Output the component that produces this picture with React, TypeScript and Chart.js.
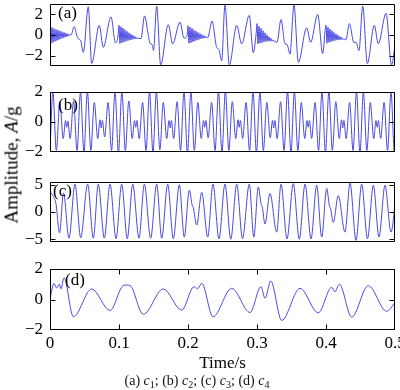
import React, { useEffect, useRef } from 'react';
import { Chart, registerables } from 'chart.js';

Chart.register(...registerables);

// ---------- data (time in seconds, amplitude in g) ----------
// (a) c1 : impulse-like components with ringing bursts every 0.1 s
const aTime = [
  0.0000, 0.0014, 0.0029, 0.0043, 0.0058, 0.0072, 0.0087, 0.0101, 0.0116, 0.0130, 0.0145,
  0.0159, 0.0174, 0.0188, 0.0203, 0.0217, 0.0232, 0.0246, 0.0261, 0.0275, 0.0290, 0.0304,
  0.0352, 0.0387, 0.0416, 0.0442, 0.0483, 0.0555, 0.0604, 0.0714, 0.0772, 0.0884, 0.0949, 0.0986,
  0.1000, 0.1014, 0.1029, 0.1043, 0.1058, 0.1072, 0.1087, 0.1101, 0.1116, 0.1130, 0.1145,
  0.1159, 0.1174, 0.1188, 0.1203, 0.1217, 0.1232, 0.1246, 0.1261, 0.1275, 0.1290,
  0.1319, 0.1370, 0.1420, 0.1449, 0.1478, 0.1500, 0.1546, 0.1604, 0.1714, 0.1778, 0.1884, 0.1942, 0.1986,
  0.2000, 0.2014, 0.2029, 0.2043, 0.2058, 0.2072, 0.2087, 0.2101, 0.2116, 0.2130, 0.2145,
  0.2159, 0.2174, 0.2188, 0.2203, 0.2217, 0.2232, 0.2246, 0.2261, 0.2275, 0.2290,
  0.2348, 0.2416, 0.2449, 0.2488, 0.2536, 0.2599, 0.2706, 0.2778, 0.2888, 0.2946, 0.2986,
  0.3000, 0.3014, 0.3029, 0.3043, 0.3058, 0.3072, 0.3087, 0.3101, 0.3116, 0.3130, 0.3145,
  0.3159, 0.3174, 0.3188, 0.3203, 0.3217, 0.3232, 0.3246, 0.3261, 0.3275, 0.3290,
  0.3348, 0.3406, 0.3435, 0.3478, 0.3536, 0.3599, 0.3720, 0.3778, 0.3880, 0.3952,
  0.4000, 0.4014, 0.4029, 0.4043, 0.4058, 0.4072, 0.4087, 0.4101, 0.4116, 0.4130, 0.4145,
  0.4159, 0.4174, 0.4188, 0.4203, 0.4217, 0.4232, 0.4246, 0.4261, 0.4275, 0.4290,
  0.4338, 0.4406, 0.4435, 0.4478, 0.4532, 0.4599, 0.4700, 0.4758, 0.4870, 0.4950, 0.5000,
];
const aAmp = [
  0.75, -0.8, 0.72, -0.72, 0.62, -0.62, 0.54, -0.54, 0.46, -0.46, 0.4,
  -0.38, 0.32, -0.3, 0.25, -0.22, 0.18, -0.15, 0.12, -0.08, 0.06, 0.0,
  0.83, 0.0, -0.4, -0.5, -1.68, 2.73, -2.76, 0.93, -1.2, 1.75, -0.75, -0.1,
  0.95, -0.82, 0.81, -0.76, 0.67, -0.69, 0.51, -0.61, 0.36, -0.55, 0.22,
  -0.49, 0.08, -0.44, -0.04, -0.4, -0.15, -0.38, -0.25, -0.37, -0.33,
  -0.35, 1.85, 0.2, -0.8, -0.9, -1.5, 2.8, -2.9, 1.0, -0.85, 1.25, -0.3, -0.1,
  0.9, -0.8, 0.78, -0.74, 0.64, -0.66, 0.5, -0.58, 0.38, -0.5, 0.26,
  -0.43, 0.14, -0.36, 0.04, -0.32, -0.06, -0.3, -0.14, -0.27, -0.22,
  1.35, -1.2, -1.4, -2.5, 2.9, -2.9, 0.93, -0.86, 1.9, -1.7, 0.0,
  1.1, -0.86, 0.86, -0.79, 0.64, -0.73, 0.42, -0.68, 0.22, -0.64, 0.02,
  -0.61, -0.16, -0.6, -0.32, -0.6, -0.47, -0.63, -0.59, -0.68, -0.7,
  1.5, -0.85, -0.9, -1.85, 2.9, -2.65, 0.7, -0.7, 2.0, -1.8,
  0.95, -0.8, 0.76, -0.72, 0.58, -0.65, 0.41, -0.59, 0.26, -0.54, 0.11,
  -0.5, -0.02, -0.47, -0.15, -0.45, -0.26, -0.45, -0.35, -0.46, -0.45,
  1.1, -0.75, -0.7, -1.5, 2.8, -2.76, 0.93, -0.85, 2.1, -2.9, -1.0,
];

// (b) c2 : beating oscillation
const bTime = [
  -0.0058, -0.0008, 0.0042, 0.0092, 0.0142, 0.0192, 0.0225, 0.0242, 0.0259,
  0.0292, 0.0342, 0.0392, 0.0442, 0.0492, 0.0542, 0.0592, 0.0642, 0.0692, 0.0725, 0.0742, 0.0759,
  0.0792, 0.0842, 0.0892, 0.0942, 0.0992, 0.1042, 0.1092, 0.1142, 0.1192, 0.1225, 0.1242, 0.1259,
  0.1292, 0.1342, 0.1392, 0.1442, 0.1492, 0.1542, 0.1592, 0.1642, 0.1692, 0.1725, 0.1742, 0.1759,
  0.1792, 0.1842, 0.1892, 0.1942, 0.1992, 0.2042, 0.2092, 0.2142, 0.2192, 0.2225, 0.2242, 0.2259,
  0.2292, 0.2342, 0.2392, 0.2442, 0.2492, 0.2542, 0.2592, 0.2642, 0.2692, 0.2725, 0.2742, 0.2759,
  0.2792, 0.2842, 0.2892, 0.2942, 0.2992, 0.3042, 0.3092, 0.3142, 0.3192, 0.3225, 0.3242, 0.3259,
  0.3292, 0.3342, 0.3392, 0.3442, 0.3492, 0.3542, 0.3592, 0.3642, 0.3692, 0.3725, 0.3742, 0.3759,
  0.3792, 0.3842, 0.3892, 0.3942, 0.3992, 0.4042, 0.4092, 0.4142, 0.4192, 0.4225, 0.4242, 0.4259,
  0.4292, 0.4342, 0.4392, 0.4442, 0.4492, 0.4542, 0.4592, 0.4642, 0.4692, 0.4725, 0.4742, 0.4759,
  0.4792, 0.4842, 0.4892, 0.4942, 0.4992, 0.5042,
];
const bAmp = [
  2.0, -2.0, 2.0, -1.9, 1.3, -1.1, 0.1, -0.35, 0.05,
  -1.1, 1.4, -1.9, 2.0, -2.05, 2.05, -1.9, 1.3, -1.1, 0.15, -0.4, 0.1,
  -1.0, 1.3, -1.9, 2.0, -2.05, 2.0, -1.9, 1.4, -1.1, 0.1, -0.35, 0.1,
  -1.1, 1.3, -1.9, 2.05, -2.05, 2.0, -1.85, 1.3, -1.1, 0.1, -0.4, 0.1,
  -1.1, 1.35, -1.9, 2.0, -2.05, 2.0, -1.9, 1.3, -1.1, 0.1, -0.35, 0.1,
  -1.05, 1.3, -1.9, 2.05, -2.05, 2.05, -1.9, 1.35, -1.1, 0.15, -0.35, 0.1,
  -1.1, 1.3, -1.9, 2.0, -2.05, 2.0, -1.9, 1.3, -1.05, 0.1, -0.4, 0.1,
  -1.1, 1.35, -1.9, 2.05, -2.05, 2.0, -1.9, 1.3, -1.1, 0.1, -0.35, 0.1,
  -1.1, 1.3, -1.9, 2.0, -2.05, 2.05, -1.9, 1.35, -1.1, 0.15, -0.4, 0.1,
  -1.1, 1.3, -1.9, 2.0, -2.05, 2.0, -1.9, 1.3, -1.1, 0.1, -0.35, 0.1,
  -1.1, 1.3, -1.9, 2.0, -2.05, 2.0,
];

// (c) c3
const cTime = [
  0.0000, 0.0043, 0.0087, 0.0138, 0.0196, 0.0275, 0.0362, 0.0445, 0.0546, 0.0628,
  0.0700, 0.0787, 0.0870, 0.0957, 0.1039, 0.1120, 0.1199, 0.1290, 0.1367, 0.1459,
  0.1546, 0.1619, 0.1706, 0.1787, 0.1874, 0.1946, 0.2019, 0.2060, 0.2075, 0.2126,
  0.2199, 0.2286, 0.2362, 0.2449, 0.2536, 0.2620, 0.2706, 0.2790, 0.2888, 0.2954,
  0.3019, 0.3060, 0.3075, 0.3116, 0.3188, 0.3286, 0.3348, 0.3435, 0.3526, 0.3613,
  0.3696, 0.3783, 0.3865, 0.3938, 0.4010, 0.4050, 0.4065, 0.4106, 0.4178, 0.4275,
  0.4348, 0.4435, 0.4517, 0.4601, 0.4686, 0.4768, 0.4855, 0.4942, 0.5014,
];
const cAmp = [
  3.7, 3.0, 1.5, -3.8, 3.5, -4.8, 5.1, -4.7, 5.1, -4.8,
  5.1, -4.8, 5.1, -4.9, 5.1, -4.9, 5.1, -4.8, 5.1, -4.8,
  5.1, -4.8, 5.1, -4.9, 5.0, -4.6, 4.0, 1.3, 0.9, -2.4,
  3.6, -4.6, 5.1, -4.9, 5.1, -5.0, 5.1, -4.9, 5.1, -4.6,
  4.6, 1.4, 1.0, -2.2, 3.4, -3.7, 5.1, -4.9, 5.2, -5.0,
  5.1, -4.9, 4.9, -4.6, 4.3, 1.1, 0.7, -1.9, 3.0, -3.7,
  5.3, -5.2, 5.1, -4.9, 4.9, -4.6, 4.9, -3.7, 3.0,
];

// (d) c4
const dTime = [
  0.0000, 0.0058, 0.0097, 0.0135, 0.0159, 0.0203, 0.0338, 0.0604, 0.0870, 0.1058,
  0.1112, 0.1159, 0.1352, 0.1642, 0.1909, 0.2087, 0.2138, 0.2199, 0.2362, 0.2633,
  0.2899, 0.3058, 0.3116, 0.3199, 0.3358, 0.3623, 0.3888, 0.4083, 0.4130, 0.4193,
  0.4372, 0.4613, 0.4880, 0.5000,
];
const dAmp = [
  0.05, 1.06, 0.75, 1.0, 0.7, 1.43, -1.13, 0.69, -0.72, 0.9,
  0.95, 0.92, -0.97, 0.69, -0.7, 0.84, 0.7, 1.06, -1.13, 0.73,
  -0.85, 0.84, 0.08, 1.21, -1.37, 0.73, -0.87, 0.8, 0.51, 1.0,
  -1.15, 0.9, -0.77, -0.2,
];

// ticks / labels
const aTicks = [-2, 0, 2];
const bTicks = [-2, 0, 2];
const cTicks = [-5, 0, 5];
const dTicks = [-2, 0, 2];
const timeTicks = [0, 0.1, 0.2, 0.3, 0.4, 0.5];
const timeTickLabels = ['0', '0.1', '0.2', '0.3', '0.4', '0.5'];
const panelLabels = ['(a)', '(b)', '(c)', '(d)'];
const captionParts = [
  ['(a)', '1'],
  ['(b)', '2'],
  ['(c)', '3'],
  ['(d)', '4'],
];

// ---------- styles / layout ----------
const FONT_FAMILY = '"Liberation Serif", "Times New Roman", Times, serif';
const LINE_COLOR = 'rgb(72, 72, 226)';
const PAD = 12;
const AXIS_W = 50;
const RIGHT_PAD = 5;
const TIME_AXIS_H = 45;

interface PanelSpec {
  time: number[];
  amp: number[];
  yMin: number;
  yMax: number;
  yTicks: number[];
  label: string;
  areaTop: number;
  areaHeight: number;
  labelDx: number;
  labelDy: number;
  showTime: boolean;
}

const panels: PanelSpec[] = [
  { time: aTime, amp: aAmp, yMin: -3, yMax: 3, yTicks: aTicks, label: panelLabels[0], areaTop: 4, areaHeight: 62, labelDx: 8, labelDy: 10, showTime: false },
  { time: bTime, amp: bAmp, yMin: -2, yMax: 2, yTicks: bTicks, label: panelLabels[1], areaTop: 92, areaHeight: 60, labelDx: 8, labelDy: 13.5, showTime: false },
  { time: cTime, amp: cAmp, yMin: -5.5, yMax: 5.5, yTicks: cTicks, label: panelLabels[2], areaTop: 182, areaHeight: 60, labelDx: 3, labelDy: 9.5, showTime: false },
  { time: dTime, amp: dAmp, yMin: -2, yMax: 2, yTicks: dTicks, label: panelLabels[3], areaTop: 269, areaHeight: 61, labelDx: 15, labelDy: 11.5, showTime: true },
];

const fmtY = (v: number) => (v < 0 ? '\u2212' + Math.abs(v) : String(v));

const framePlugin = {
  id: 'frame',
  afterDraw(chart: any, _args: any, opts: any) {
    const { ctx, chartArea, scales } = chart;
    const l = chartArea.left + 0.5;
    const r = chartArea.right - 0.5;
    const t = chartArea.top + 0.5;
    const b = chartArea.bottom - 0.5;
    ctx.save();
    ctx.strokeStyle = '#000';
    ctx.lineWidth = 1;
    ctx.beginPath();
    ctx.rect(l, t, r - l, b - t);
    const ys = scales.y;
    for (const tk of ys.ticks) {
      let py = Math.round(ys.getPixelForValue(tk.value)) + 0.5;
      py = Math.min(Math.max(py, t), b);
      ctx.moveTo(l, py);
      ctx.lineTo(l + 5, py);
      ctx.moveTo(r, py);
      ctx.lineTo(r - 5, py);
    }
    if (opts.timeTicks) {
      const xs = scales.x;
      for (const tk of xs.ticks) {
        let px = Math.round(xs.getPixelForValue(tk.value)) + 0.5;
        px = Math.min(Math.max(px, l), r);
        ctx.moveTo(px, b);
        ctx.lineTo(px, b - 5);
        ctx.moveTo(px, t);
        ctx.lineTo(px, t + 5);
      }
    }
    ctx.stroke();
    ctx.fillStyle = '#000';
    ctx.font = `17px ${FONT_FAMILY}`;
    ctx.textAlign = 'left';
    ctx.textBaseline = 'middle';
    ctx.fillText(opts.label, chartArea.left + opts.dx, chartArea.top + opts.dy);
    ctx.restore();
  },
};

function PanelChart({ p }: { p: PanelSpec }) {
  const ref = useRef<HTMLCanvasElement>(null);
  const height = PAD + p.areaHeight + (p.showTime ? TIME_AXIS_H : PAD);

  useEffect(() => {
    if (!ref.current) return;
    const chart = new Chart(ref.current, {
      type: 'line',
      data: {
        datasets: [
          {
            data: p.time.map((t, i) => ({ x: t, y: p.amp[i] })),
            borderColor: LINE_COLOR,
            borderWidth: 1,
            pointRadius: 0,
            fill: false,
            cubicInterpolationMode: 'monotone',
          },
        ],
      },
      options: {
        animation: false,
        responsive: false,
        events: [],
        layout: { padding: { left: 0, right: RIGHT_PAD, top: PAD, bottom: p.showTime ? 0 : PAD } },
        plugins: {
          legend: { display: false },
          tooltip: { enabled: false },
          frame: { label: p.label, dx: p.labelDx, dy: p.labelDy, timeTicks: p.showTime },
        } as any,
        scales: {
          x: {
            type: 'linear',
            min: 0,
            max: 0.5,
            display: p.showTime,
            grid: { display: false, drawTicks: false },
            border: { display: false },
            afterBuildTicks: (s: any) => {
              s.ticks = timeTicks.map((v) => ({ value: v }));
            },
            afterFit: (s: any) => {
              if (p.showTime) {
                s.height = TIME_AXIS_H;
              }
              s.paddingLeft = 0;
              s.paddingRight = 0;
            },
            ticks: {
              font: { family: FONT_FAMILY, size: 17 },
              color: '#000',
              padding: 3,
              maxRotation: 0,
              autoSkip: false,
              callback: (v: any) => {
                const i = timeTicks.findIndex((x) => Math.abs(x - Number(v)) < 1e-9);
                return i >= 0 ? timeTickLabels[i] : '';
              },
            },
            title: {
              display: true,
              text: 'Time/s',
              font: { family: FONT_FAMILY, size: 17 },
              color: '#000',
              padding: { top: 0, bottom: 1 },
            },
          },
          y: {
            type: 'linear',
            min: p.yMin,
            max: p.yMax,
            grid: { display: false, drawTicks: false },
            border: { display: false },
            afterBuildTicks: (s: any) => {
              s.ticks = p.yTicks.map((v) => ({ value: v }));
            },
            afterFit: (s: any) => {
              s.width = AXIS_W;
              s.paddingTop = 0;
              s.paddingBottom = 0;
            },
            ticks: {
              font: { family: FONT_FAMILY, size: 17 },
              color: '#000',
              padding: 7,
              callback: (v: any) => fmtY(Number(v)),
            },
          },
        },
      } as any,
      plugins: [framePlugin as any],
    });
    return () => chart.destroy();
  }, [p]);

  return (
    <canvas
      ref={ref}
      width={400}
      height={height}
      style={{ position: 'absolute', left: 0, top: p.areaTop - PAD, width: 400, height }}
    />
  );
}

export default function App() {
  return (
    <div style={{ position: 'absolute', left: 0, top: 0, width: 400, height: 390, background: '#fff', overflow: 'hidden' }}>
      {panels.map((p, i) => (
        <PanelChart key={i} p={p} />
      ))}
      <div
        style={{
          position: 'absolute',
          left: 11,
          top: 165,
          transform: 'translate(-50%, -50%) rotate(-90deg)',
          whiteSpace: 'nowrap',
          fontFamily: FONT_FAMILY,
          fontSize: 19,
          lineHeight: 1,
          color: '#000',
        }}
      >
        Amplitude, <i>A</i>/g
      </div>
      <div
        style={{
          position: 'absolute',
          left: 197,
          top: 381,
          transform: 'translate(-50%, -50%)',
          whiteSpace: 'nowrap',
          fontFamily: FONT_FAMILY,
          fontSize: 14,
          lineHeight: 1,
          color: '#111',
        }}
      >
        {captionParts.map(([tag, n], i) => (
          <span key={i}>
            {tag} <i>c</i>
            <sub style={{ fontSize: '0.72em', verticalAlign: '-0.25em', lineHeight: 0 }}>{n}</sub>
            {i < captionParts.length - 1 ? '; ' : ''}
          </span>
        ))}
      </div>
    </div>
  );
}
